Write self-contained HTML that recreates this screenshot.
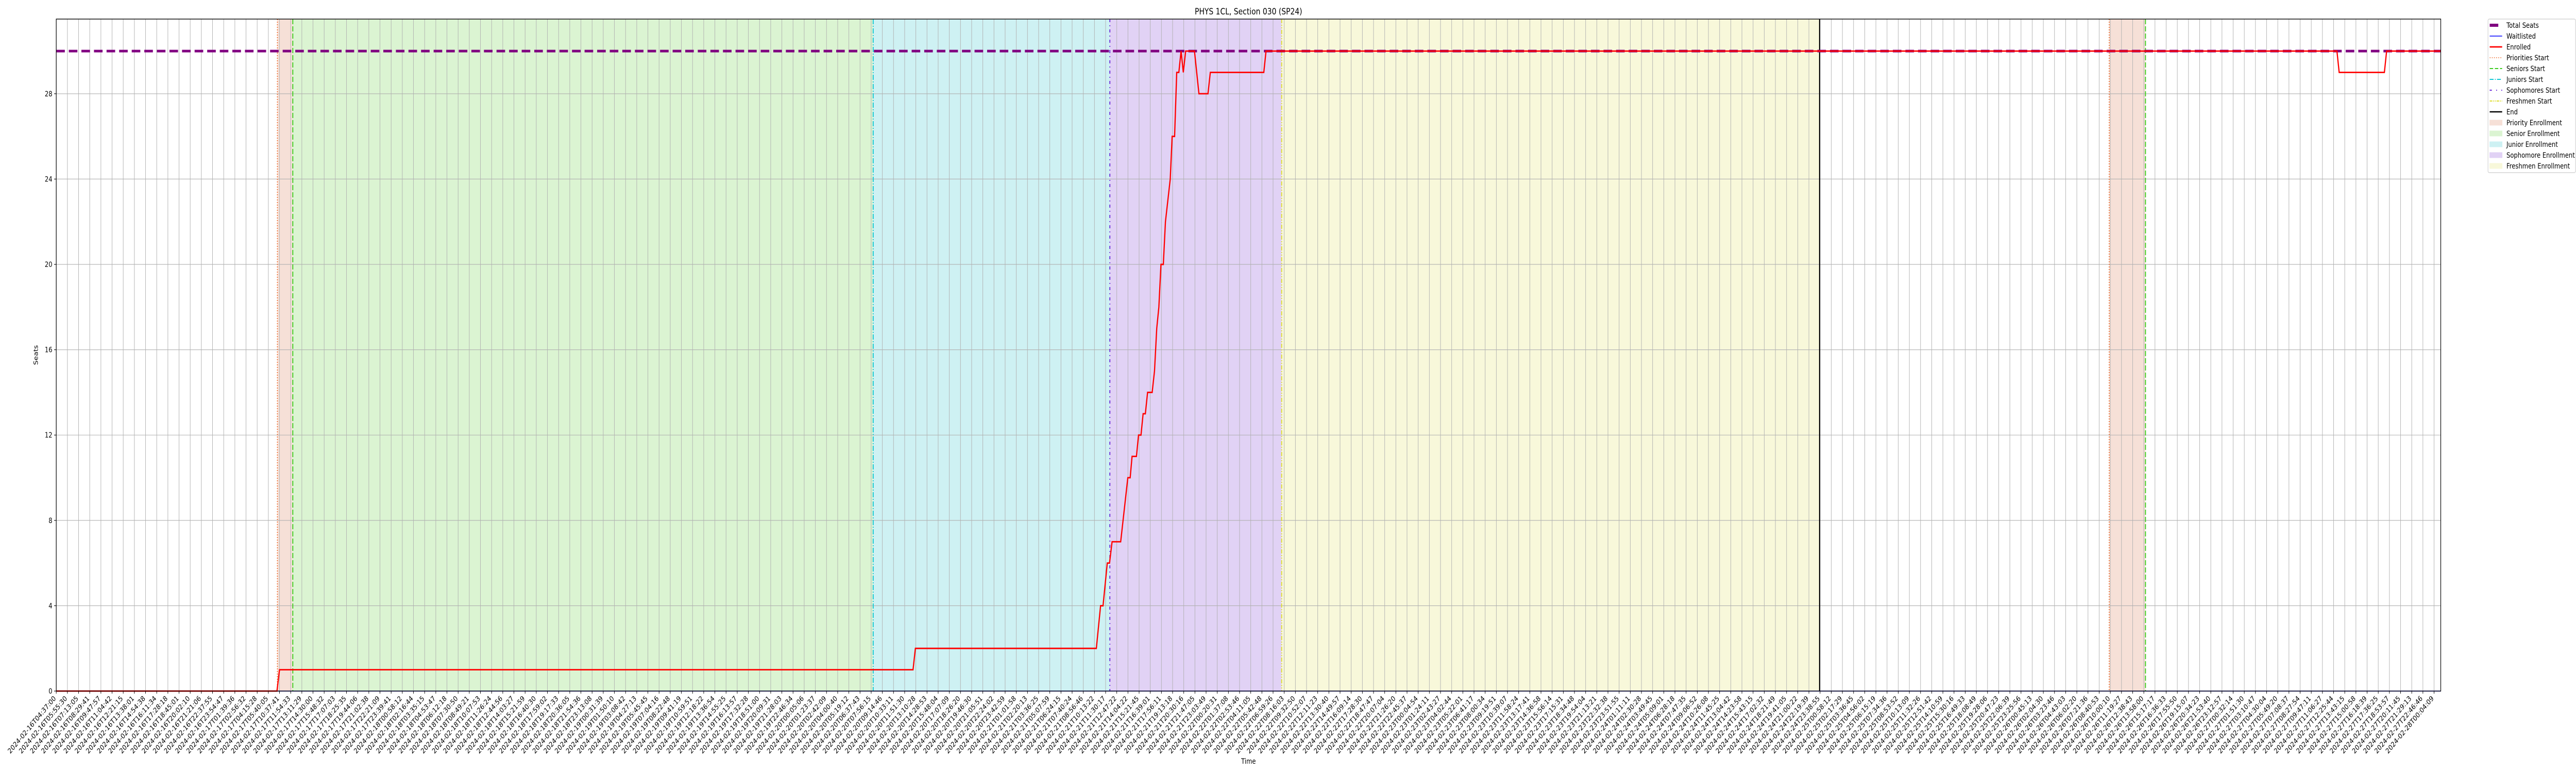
<!DOCTYPE html>
<html><head><meta charset="utf-8">
<style>
html,body{margin:0;padding:0;background:#fff;width:100%;height:100%;overflow:hidden;}
svg{display:block;position:fixed;left:0;top:0;width:100vw;height:100vh;font-family:"DejaVu Sans","Liberation Sans",sans-serif;}
</style></head>
<body>
<svg id="chart" viewBox="0 0 6000 1500" preserveAspectRatio="none" xmlns="http://www.w3.org/2000/svg">
<rect width="6000" height="1500" fill="#fff"/>
<g id="bands"></g>
<g id="grid"></g>
<g id="vlines"></g>
<g id="series"></g>
<rect x="131" y="37" width="5554" height="1304" fill="none" stroke="#000" stroke-width="1.4"/>
<g id="yaxis"></g>
<g id="xaxis"></g>
<text x="2908" y="28" font-size="16.7" text-anchor="middle">PHYS 1CL, Section 030 (SP24)</text>
<text x="2908" y="1482" font-size="13.9" text-anchor="middle">Time</text>
<text x="0" y="0" font-size="13.9" text-anchor="middle" transform="translate(88,689) rotate(-90)">Seats</text>
<g id="legend"></g>
</svg>
<script>
// ---- data ----
const labelAnchorIdx = [0,1,2,3,4,5,6,7,8,9,10,11,12,13,14,15,16,17,18,19,20,21,22,
 74,75,76,77,78,79,80,81,82,83,84,85,86,87,88,89,90,91,92,93,94,95,96,97,98,99,100,101,102,103,104,105,106,107,108,109,110,111,
 204,205,206,207,208,209,210,211,212,213];
const labelAnchorTime = ["2024-02-16T04:37:00","2024-02-16T05:55:30","2024-02-16T07:13:05","2024-02-16T08:29:41","2024-02-16T09:47:57","2024-02-16T11:04:42","2024-02-16T12:21:15","2024-02-16T13:38:01","2024-02-16T14:54:38","2024-02-16T16:11:34","2024-02-16T17:28:18","2024-02-16T18:45:01","2024-02-16T20:02:10","2024-02-16T21:21:06","2024-02-16T22:37:55","2024-02-16T23:54:47","2024-02-17T01:39:36","2024-02-17T02:56:32","2024-02-17T04:15:28","2024-02-17T05:40:05","2024-02-17T10:37:41","2024-02-17T11:54:33","2024-02-17T13:11:29",
 "2024-02-20T09:14:46","2024-02-20T10:33:11","2024-02-20T11:51:30","2024-02-20T13:10:28","2024-02-20T14:28:53","2024-02-20T15:48:04","2024-02-20T17:07:09","2024-02-20T18:26:20","2024-02-20T19:46:30","2024-02-20T21:05:51","2024-02-20T22:24:02","2024-02-20T23:42:59","2024-02-21T01:01:58","2024-02-21T02:20:13","2024-02-21T03:36:25","2024-02-21T05:07:59","2024-02-21T06:24:15","2024-02-21T07:40:24","2024-02-21T08:56:46","2024-02-21T10:13:22","2024-02-21T11:30:17","2024-02-21T12:47:22","2024-02-21T14:04:22","2024-02-21T15:21:45","2024-02-21T16:39:01","2024-02-21T17:56:11","2024-02-21T19:13:18","2024-02-21T20:30:16","2024-02-21T21:47:05","2024-02-21T23:03:49","2024-02-22T00:20:31","2024-02-22T01:37:08","2024-02-22T02:53:46","2024-02-22T04:11:05","2024-02-22T05:42:48","2024-02-22T06:59:26","2024-02-22T08:16:03","2024-02-22T09:32:50",
 "2024-02-27T12:25:44","2024-02-27T13:43:15","2024-02-27T15:00:58","2024-02-27T16:18:39","2024-02-27T17:36:25","2024-02-27T18:53:57","2024-02-27T20:11:45","2024-02-27T21:29:13","2024-02-27T22:46:46","2024-02-28T00:04:09"];
const totalSeats = 30;
const enrolledIdx = [0,19.77,20.0,76.75,76.96,93.17,93.55,93.77,94.15,94.35,94.58,95.35,95.99,96.20,96.37,96.76,96.95,97.17,97.36,97.56,97.76,98.17,98.38,98.58,98.77,98.96,99.17,99.36,99.79,99.96,100.18,100.37,100.56,100.76,100.96,101.17,101.96,102.36,103.17,103.38,108.17,108.37,204.3,204.5,208.55,208.75,213.6];
const enrolledVal = [0,0,1,1,2,2,4,4,6,6,7,7,10,10,11,11,12,12,13,13,14,14,15,17,18,20,20,22,24,26,26,29,29,30,29,30,30,28,28,29,29,30,30,29,29,30,30];
const waitIdx = [0,213.6];
const waitVal = [0,0];
const yTicks = [0,4,8,12,16,20,24,28];
const phaseNames = ["priority-1","senior","junior","sophomore","freshmen","priority-2"];
const phaseStart = [19.81,21.19,73.18,94.38,109.77,183.9];
const phaseEnd   = [21.19,73.18,94.38,109.77,157.96,187.15];
const endIdx = 157.96;
const seniorStart2 = 187.15;

// ---- scales ----
const NT = 214, XMAX = 213.6, YMAX = 31.5;
const X0 = 131, X1 = 5685, Y0 = 1341, Y1 = 37;
const xs = i => X0 + i * (X1 - X0) / XMAX;
const ys = v => Y0 - v * (Y0 - Y1) / YMAX;
const NS = "http://www.w3.org/2000/svg";
function mk(tag, attrs, parent){const e=document.createElementNS(NS,tag);for(const k in attrs)e.setAttribute(k,attrs[k]);parent.appendChild(e);return e;}

// ---- bands ----
const bandColor = {"priority-1":"#f6e0d7","senior":"#dbf4d2","junior":"#cef1f3","sophomore":"#e1d2f5","freshmen":"#f8f8da","priority-2":"#f6e0d7"};
const gB = document.getElementById('bands');
phaseNames.forEach((n,k)=>{
  const r = mk('rect',{x:xs(phaseStart[k]),y:Y1,width:xs(phaseEnd[k])-xs(phaseStart[k]),height:Y0-Y1,fill:bandColor[n]},gB);
  
  
});

// ---- grid ----
const gG = document.getElementById('grid');
for(let i=0;i<NT;i++){
  const l = mk('line',{x1:xs(i),x2:xs(i),y1:Y1,y2:Y0,stroke:"#b0b0b0","stroke-width":1.1},gG);
  
  
}
yTicks.forEach(v=>{
  const l = mk('line',{x1:X0,x2:X1,y1:ys(v),y2:ys(v),stroke:"#b0b0b0","stroke-width":1.1},gG);
  
  
});

// ---- phase start lines ----
const gV = document.getElementById('vlines');
const vStyles = [
  {c:"#ee6b2d",d:"2,3",w:2},
  {c:"#3ccc1e",d:"10,4",w:2.2},
  {c:"#12c7d4",d:"10,3,2,3",w:2.2},
  {c:"#6b2bd9",d:"6,6,2,6",w:2.2},
  {c:"#dede30",d:"8,3,2,3,2,3",w:2.2}
];
const vNames = ["priorities-start","seniors-start","juniors-start","sophomores-start","freshmen-start"];
for(let k=0;k<5;k++){
  const l = mk('line',{x1:xs(phaseStart[k]),x2:xs(phaseStart[k]),y1:Y1,y2:Y0,stroke:vStyles[k].c,"stroke-width":vStyles[k].w,"stroke-dasharray":vStyles[k].d},gV);
  
  
}
{
  const l1 = mk('line',{x1:xs(phaseStart[5]),x2:xs(phaseStart[5]),y1:Y1,y2:Y0,stroke:vStyles[0].c,"stroke-width":vStyles[0].w,"stroke-dasharray":vStyles[0].d},gV);
  
  
  const l2 = mk('line',{x1:xs(seniorStart2),x2:xs(seniorStart2),y1:Y1,y2:Y0,stroke:vStyles[1].c,"stroke-width":vStyles[1].w,"stroke-dasharray":vStyles[1].d},gV);
  
  
  const le = mk('line',{x1:xs(endIdx),x2:xs(endIdx),y1:Y1,y2:Y0,stroke:"#000","stroke-width":2.6},gV);
  
  
}

// ---- series ----
const gS = document.getElementById('series');
const ts = mk('line',{x1:X0,x2:X1,y1:ys(totalSeats),y2:ys(totalSeats),stroke:"#800080","stroke-width":5,"stroke-dasharray":"20,9.3"},gS);


const wl = mk('polyline',{points:waitIdx.map((x,k)=>xs(x)+','+ys(waitVal[k])).join(' '),fill:"none",stroke:"#0000ff","stroke-width":1.6},gS);


const en = mk('polyline',{points:enrolledIdx.map((x,k)=>xs(x)+','+ys(enrolledVal[k])).join(' '),fill:"none",stroke:"#ff0000","stroke-width":2.8,"stroke-linejoin":"miter"},gS);



// ---- y axis ----
const gY = document.getElementById('yaxis');
yTicks.forEach(v=>{
  const t = mk('line',{x1:X0-5,x2:X0,y1:ys(v),y2:ys(v),stroke:"#000","stroke-width":1.1},gY);
  
  
  const tx = mk('text',{x:X0-9,y:ys(v)+5,"font-size":13.9,"text-anchor":"end"},gY);
  tx.textContent = v;
  
  
});

// ---- x axis labels ----
const anchorMs = labelAnchorTime.map(s=>Date.parse(s+"Z"));
function labelFor(i){
  let k=0; while(k<labelAnchorIdx.length-1 && labelAnchorIdx[k+1]<=i) k++;
  if(labelAnchorIdx[k]===i) return labelAnchorTime[k];
  const i0=labelAnchorIdx[k], i1=labelAnchorIdx[k+1];
  const ms = anchorMs[k] + (anchorMs[k+1]-anchorMs[k])*(i-i0)/(i1-i0);
  return new Date(Math.round(ms/1000)*1000).toISOString().slice(0,19);
}
const gX = document.getElementById('xaxis');
for(let i=0;i<NT;i++){
  const x = xs(i);
  const t = mk('line',{x1:x,x2:x,y1:Y0,y2:Y0+5,stroke:"#000","stroke-width":1.1},gX);
  
  
  const tx = mk('text',{x:0,y:10,"font-size":13.9,"text-anchor":"end",transform:`translate(${x-7},${Y0+8}) rotate(-45)`},gX);
  tx.textContent = labelFor(i);
  
  
}

// ---- legend ----
const gL = document.getElementById('legend');
const lb = mk('rect',{x:5795,y:37,width:204,height:298,rx:3,fill:"#fff",stroke:"#cccccc","stroke-width":1.2},gL);


const legItems = [
  ["Total Seats","line","#800080",6,""],
  ["Waitlisted","line","#0000ff",1.6,""],
  ["Enrolled","line","#ff0000",2.8,""],
  ["Priorities Start","line","#ee6b2d",1.6,"2,3"],
  ["Seniors Start","line","#3ccc1e",2,"8,4"],
  ["Juniors Start","line","#12c7d4",2,"9,3,2,3"],
  ["Sophomores Start","line","#6b2bd9",2,"5,10,2,10"],
  ["Freshmen Start","line","#dede30",2,"6,2,2,2,2,2"],
  ["End","line","#000",2.4,""],
  ["Priority Enrollment","patch","#f6e0d7"],
  ["Senior Enrollment","patch","#dbf4d2"],
  ["Junior Enrollment","patch","#cef1f3"],
  ["Sophomore Enrollment","patch","#e1d2f5"],
  ["Freshmen Enrollment","patch","#f8f8da"]
];
legItems.forEach((it,k)=>{
  const cy = 49 + k*21;
  const g = mk('g',{},gL);
  
  
  if(it[1]==="line"){
    const x2 = k===0 ? 5819 : 5828;
    mk('line',{x1:5799,x2:x2,y1:cy,y2:cy,stroke:it[2],"stroke-width":it[3],"stroke-dasharray":it[4]},g);
  } else {
    mk('rect',{x:5799,y:cy-5,width:29,height:10,fill:it[2],stroke:it[2],"stroke-width":1},g);
  }
  const tx = mk('text',{x:5838,y:cy+5,"font-size":13.9},g);
  tx.textContent = it[0];
});
</script>
</body></html>
